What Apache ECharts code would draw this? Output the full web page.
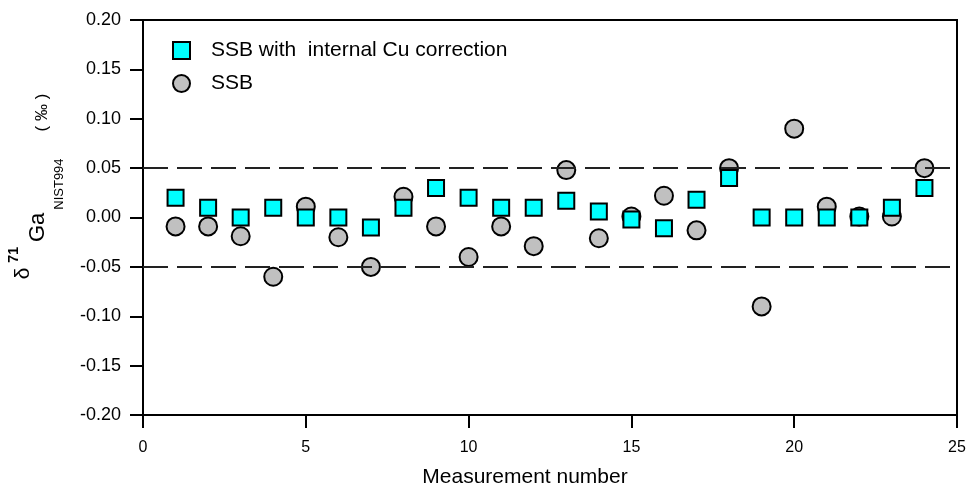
<!DOCTYPE html>
<html>
<head>
<meta charset="utf-8">
<script src="https://cdn.jsdelivr.net/npm/echarts@6/dist/echarts.min.js"></script>
<style>
html,body{margin:0;padding:0;background:#fff;}
#chart{width:968px;height:486px;}
</style>
</head>
<body>
<div id="chart"></div>
<script>
// measurement numbers
var runs = [1,2,3,4,5,6,7,8,9,10,11,12,13,14,15,16,17,18,19,20,21,22,23,24];
// SSB with internal Cu correction
var cuCorr = [0.020,0.010,0.000,0.010,0.000,0.000,-0.010,0.010,0.030,0.020,0.010,0.010,
              0.017,0.006,-0.002,-0.011,0.018,0.040,0.000,0.000,0.000,0.000,0.010,0.030];
// plain SSB
var ssb = [-0.009,-0.009,-0.019,-0.060,0.011,-0.020,-0.050,0.021,-0.009,-0.040,-0.009,-0.029,
           0.048,-0.021,0.001,0.022,-0.013,0.050,-0.090,0.090,0.011,0.001,0.001,0.050];
var limits = [0.05,-0.05];

function pairs(ys){
    var out=[];
    for(var i=0;i<runs.length;i++){ out.push([runs[i],ys[i]]); }
    return out;
}

var chart = echarts.init(document.getElementById('chart'));
var font = '"Liberation Sans", Arial, sans-serif';

var option = {
    animation:false,
    textStyle:{fontFamily:font,color:'#000'},
    grid:{left:143,right:11,top:20,bottom:71,outerBoundsMode:'none',containLabel:false,
        show:true,borderColor:'#000',borderWidth:2},
    legend:{
        orient:'vertical',left:167,top:35,itemWidth:17,itemHeight:17,itemGap:12,
        textStyle:{fontSize:21,color:'#000',fontFamily:font,padding:[0,0,0,16]},
        data:[{name:'SSB with  internal Cu correction',icon:'rect'},{name:'SSB',icon:'circle'}]
    },
    xAxis:{
        type:'value',min:0,max:25,interval:5,
        name:'Measurement number',nameLocation:'middle',nameGap:52,
        nameTextStyle:{fontSize:21,color:'#000',fontFamily:font,padding:[0,50,0,0]},
        axisLine:{onZero:false,lineStyle:{color:'#000',width:2}},
        axisTick:{length:13,lineStyle:{color:'#000',width:2}},
        axisLabel:{fontSize:16,color:'#000',margin:25,fontFamily:font},
        splitLine:{show:false}
    },
    yAxis:{
        type:'value',min:-0.2,max:0.2,interval:0.05,
        name:'{d|δ}{sup|71}{g|Ga}{sub|NIST994}{p|( ‰ )}',
        nameLocation:'middle',nameGap:77,nameRotate:90,
        nameTextStyle:{
            padding:[0,0,0,62],
            rich:{
                d:{fontSize:21,lineHeight:21,fontFamily:font,color:'#000',verticalAlign:'bottom',padding:[0,0,32,0]},
                sup:{fontSize:14,lineHeight:14,fontWeight:'bold',fontFamily:font,color:'#000',verticalAlign:'bottom',padding:[0,0,45,5]},
                g:{fontSize:22,lineHeight:22,fontFamily:font,color:'#000',verticalAlign:'bottom',padding:[0,0,17,5]},
                sub:{fontSize:13,lineHeight:13,fontFamily:font,color:'#000',verticalAlign:'bottom',padding:[0,0,0,3]},
                p:{fontSize:17,lineHeight:17,fontFamily:font,color:'#000',verticalAlign:'bottom',padding:[0,0,15,27]}
            }
        },
        axisLine:{onZero:false,lineStyle:{color:'#000',width:2}},
        axisTick:{length:13,lineStyle:{color:'#000',width:2}},
        axisLabel:{fontSize:18,color:'#000',margin:22,fontFamily:font,
            formatter:function(v){ return v.toFixed(2); }},
        splitLine:{show:false}
    },
    series:[
        {
            name:'SSB',type:'scatter',z:2,symbol:'circle',symbolSize:18,
            itemStyle:{color:'#c0c0c0',borderColor:'#000',borderWidth:2,opacity:1},
            data:pairs(ssb),
            markLine:{
                silent:true,symbol:'none',label:{show:false},
                lineStyle:{color:'#222',width:2,type:[25,9]},
                data:limits.map(function(v){ return {yAxis:v}; })
            }
        },
        {
            name:'SSB with  internal Cu correction',type:'scatter',z:3,symbol:'rect',symbolSize:16,
            itemStyle:{color:'#00ffff',borderColor:'#000',borderWidth:2,opacity:1},
            data:pairs(cuCorr)
        }
    ]
};
chart.setOption(option);
</script>
</body>
</html>
